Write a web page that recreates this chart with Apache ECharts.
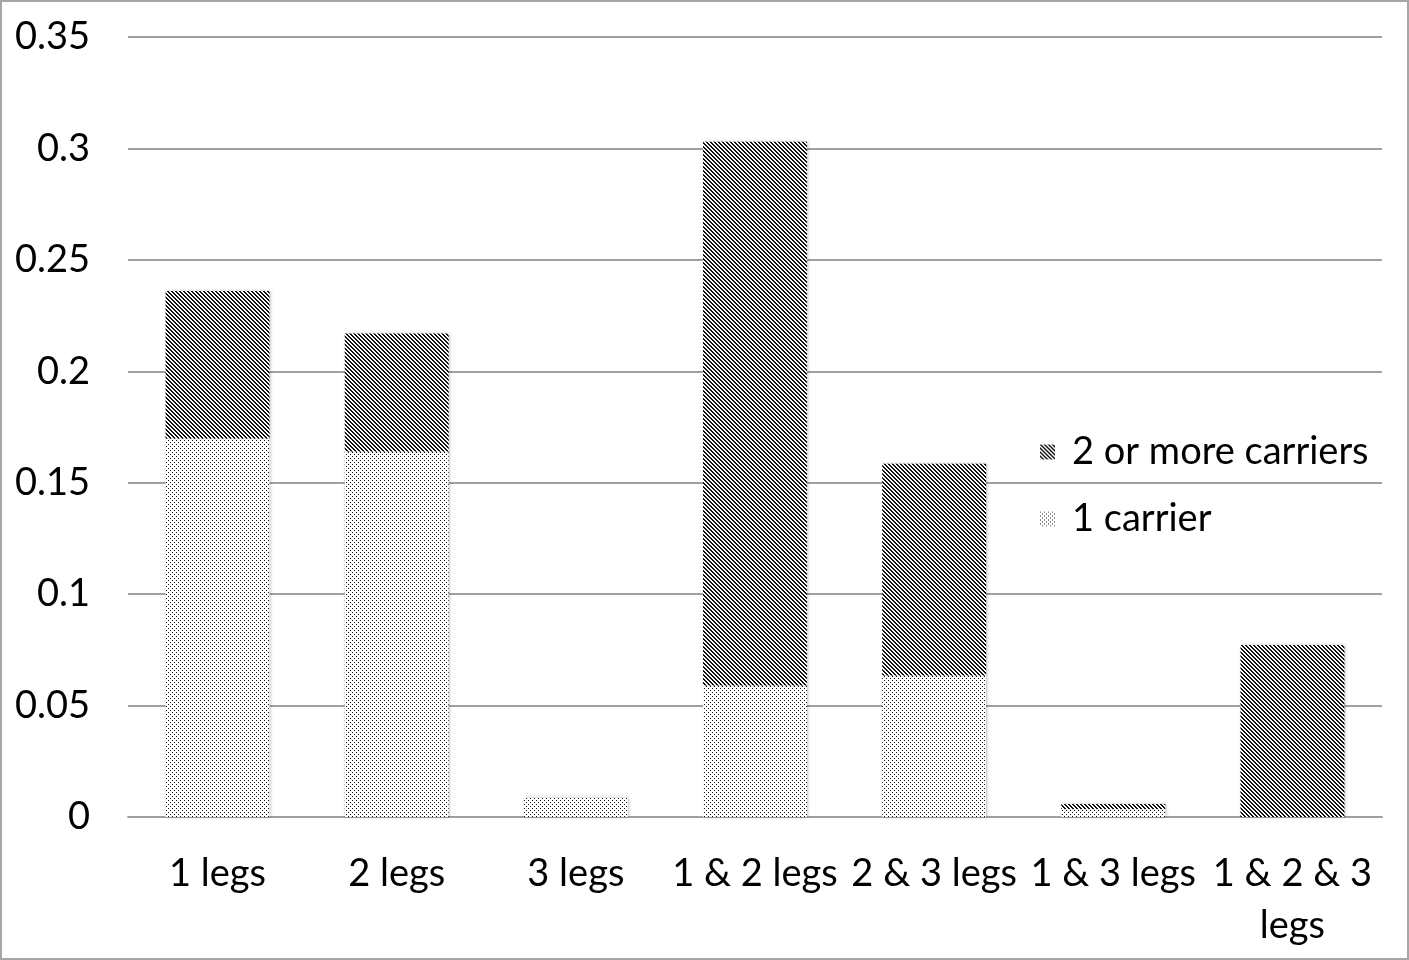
<!DOCTYPE html>
<html><head><meta charset="utf-8">
<script src="https://cdn.jsdelivr.net/npm/echarts@6/dist/echarts.min.js"></script>
<style>html,body{margin:0;padding:0;background:#fff}#c{width:1409px;height:960px;box-sizing:border-box;border:2px solid #a6a6a6}</style>
</head><body><div id="c"></div>
<script>
const categories = ['1 legs', '2 legs', '3 legs', '1 & 2 legs', '2 & 3 legs', '1 & 3 legs', '1 & 2 & 3\nlegs'];
const oneCarrier = [0.170, 0.164, 0.0085, 0.059, 0.0635, 0.0036, 0];
const twoOrMore = [0.066, 0.053, 0, 0.244, 0.095, 0.0022, 0.0772];
const seriesNames = ['1 carrier', '2 or more carriers'];
const yTicks = [0, 0.05, 0.1, 0.15, 0.2, 0.25, 0.3, 0.35];

function makePattern(kind) {
  const c = document.createElement('canvas');
  c.width = 4; c.height = 4;
  const g = c.getContext('2d');
  g.fillStyle = '#ffffff'; g.fillRect(0, 0, 4, 4);
  g.fillStyle = '#111111';
  for (let y = 0; y < 4; y++) for (let x = 0; x < 4; x++) {
    if (kind === 'stripe') {
      if (((x - y) % 4 + 4) % 4 < 2) g.fillRect(x, y, 1, 1);
    } else {
      if ((x === 0 && y === 0) || (x === 2 && y === 2)) g.fillRect(x, y, 1, 1);
    }
  }
  return { image: c, repeat: 'repeat' };
}
const font = 'Lato, "Open Sans", sans-serif';
const FS = 38;
const chart = echarts.init(document.getElementById('c'));
chart.setOption({
  animation: false,
  textStyle: { fontFamily: font },
  grid: { left: 126, right: 25, top: 35, bottom: 141 },
  legend: {
    orient: 'vertical', left: 1033, top: 426, itemWidth: 15, itemHeight: 15, itemGap: 29, icon: 'rect',
    data: ['2 or more carriers', '1 carrier'],
    textStyle: { fontSize: FS, lineHeight: 38, color: '#000', fontFamily: font, padding: [0, 0, 0, 12] }
  },
  xAxis: {
    type: 'category', data: categories,
    axisLine: { lineStyle: { color: '#a0a0a0', width: 2 } },
    axisTick: { show: false },
    axisLabel: { fontSize: FS, color: '#000', margin: 31, lineHeight: 52, interval: 0, fontFamily: font }
  },
  yAxis: {
    type: 'value', min: 0, max: 0.35, interval: 0.05,
    axisLine: { show: false }, axisTick: { show: false },
    splitLine: { lineStyle: { color: '#a0a0a0', width: 2 } },
    axisLabel: { fontSize: FS, color: '#000', margin: 38, fontFamily: font, padding: [12, 0, 0, 0],
      formatter: v => { const t = yTicks.find(x => Math.abs(x - v) < 1e-9); return String(t !== undefined ? t : v); } }
  },
  series: [
    { name: seriesNames[0], type: 'bar', stack: 's', data: oneCarrier, barWidth: '58%',
      itemStyle: { color: makePattern('dots'), shadowBlur: 3, shadowColor: 'rgba(0,0,0,0.25)', shadowOffsetX: 1 } },
    { name: seriesNames[1], type: 'bar', stack: 's', data: twoOrMore, barWidth: '58%',
      itemStyle: { color: makePattern('stripe'), shadowBlur: 3, shadowColor: 'rgba(0,0,0,0.25)', shadowOffsetX: 1 } }
  ]
});
</script></body></html>
